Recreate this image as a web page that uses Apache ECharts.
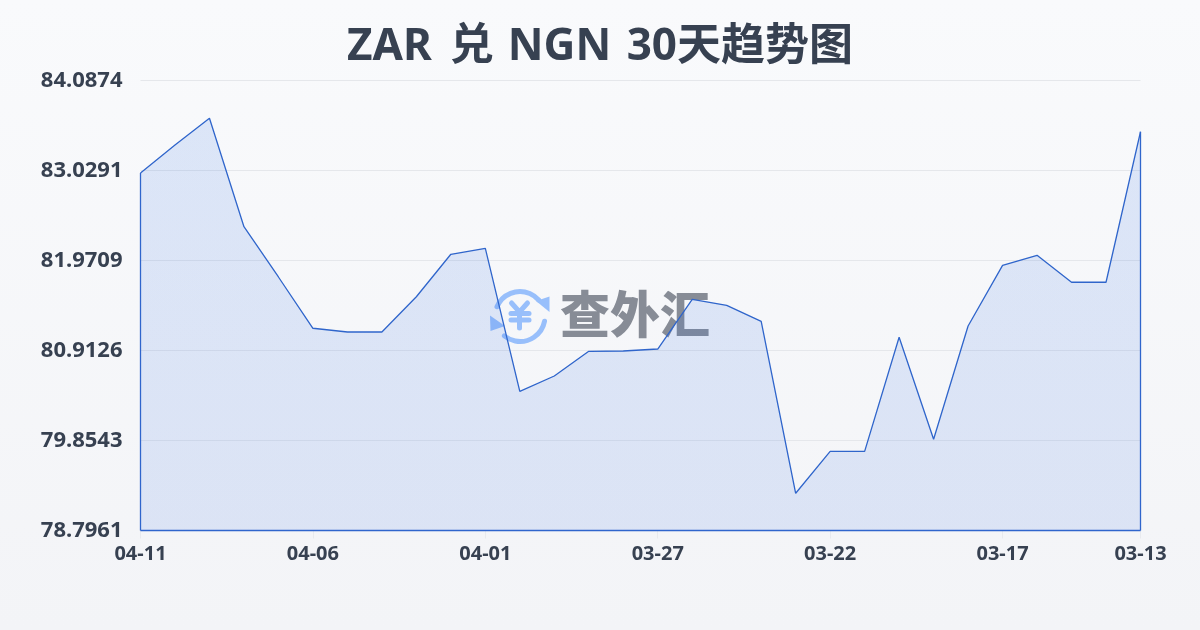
<!DOCTYPE html>
<html>
<head>
    <meta charset="utf-8">
    <title>ZAR 兑 NGN 30天趋势图</title>
    <script src="https://cdn.jsdelivr.net/npm/echarts@6/dist/echarts.min.js"></script>
    <style>
        html, body { margin: 0; padding: 0; }
    </style>
</head>
<body>
<div id="main" style="width: 1200px; height: 630px;"></div>
<script type="text/javascript">
    var dates = ['04-11', '04-10', '04-09', '04-08', '04-07', '04-06', '04-05', '04-04', '04-03', '04-02',
        '04-01', '03-31', '03-30', '03-29', '03-28', '03-27', '03-26', '03-25', '03-24', '03-23',
        '03-22', '03-21', '03-20', '03-19', '03-18', '03-17', '03-16', '03-15', '03-14', '03-13'];
    var rates = [83.000, 83.329, 83.643, 82.368, 81.777, 81.174, 81.130, 81.130, 81.545, 82.044,
        82.114, 80.433, 80.613, 80.903, 80.907, 80.930, 81.515, 81.444, 81.256, 79.234,
        79.727, 79.727, 81.068, 79.869, 81.201, 81.914, 82.032, 81.715, 81.715, 83.485];
    var yTicks = [78.7961, 79.8543, 80.9126, 81.9709, 83.0291, 84.0874];

    var fontName = '"Noto Sans", "Noto Sans CJK SC", sans-serif';
    var textColor = '#374151';
    var lineColor = '#2f65cb';
    var yMin = yTicks[0];
    var yMax = yTicks[yTicks.length - 1];
    var lastIdx = dates.length - 1;

    // 每5天一个标签，最后一天也要显示
    function showDate(idx) {
        return idx % 5 === 0 || idx === lastIdx;
    }

    var myChart = echarts.init(document.getElementById('main'));

    var logoColor = '#98bffb';
    var logoStroke = { stroke: logoColor, lineWidth: 5, lineCap: 'round', fill: 'none' };

    var option = {
        animation: false,
        backgroundColor: new echarts.graphic.LinearGradient(0, 0, 0, 1, [
            { offset: 0, color: '#f9fafc' },
            { offset: 1, color: '#f3f4f7' }
        ]),
        title: {
            // 标题里几处空格宽度不一样，用 rich 调
            text: 'ZAR{g1| }兑{g2| }NGN{g3| }30天趋势图',
            left: 'center',
            top: 20,
            textStyle: {
                color: textColor,
                fontFamily: fontName,
                fontWeight: 700,
                fontSize: 44,
                rich: {
                    g1: { width: 18, fontSize: 44 },
                    g2: { width: 14, fontSize: 44 },
                    g3: { width: 15.5, fontSize: 44 }
                }
            }
        },
        grid: { left: 140.5, right: 59.5, top: 80.5, bottom: 99.5 },
        xAxis: {
            type: 'category',
            boundaryGap: false,
            data: dates,
            axisLine: { show: false },
            axisTick: { show: true, alignWithLabel: true, length: 8, interval: showDate, lineStyle: { color: '#e8eaee' } },
            axisLabel: {
                interval: showDate,
                hideOverlap: false,
                color: textColor,
                fontFamily: fontName,
                fontWeight: 700,
                fontSize: 20,
                margin: 14
            }
        },
        yAxis: {
            type: 'value',
            min: yMin,
            max: yMax,
            axisLine: { show: false },
            axisTick: { show: false, customValues: yTicks },
            splitLine: { show: true, lineStyle: { color: '#e5e7eb', width: 1 } },
            axisLabel: {
                customValues: yTicks,
                formatter: function (v) { return v.toFixed(4); },
                color: textColor,
                fontFamily: fontName,
                fontWeight: 700,
                fontSize: 22,
                margin: 18,
                padding: [0, 0, 10, 0]
            }
        },
        series: [{
            type: 'line',
            data: rates,
            symbol: 'none',
            smooth: false,
            z: 5,
            lineStyle: { color: lineColor, width: 1.3 },
            areaStyle: {
                color: new echarts.graphic.LinearGradient(0, 0, 0, 1, [
                    { offset: 0, color: 'rgba(47,110,225,0.2)' },
                    { offset: 1, color: 'rgba(47,105,225,0.175)' }
                ])
            },
            // 面积图的左、右、下三条边
            markLine: {
                silent: true,
                symbol: 'none',
                label: { show: false },
                lineStyle: { color: lineColor, width: 1.3, type: 'solid' },
                data: [
                    [{ coord: [dates[0], yMin] }, { coord: [dates[0], rates[0]] }],
                    [{ coord: [dates[lastIdx], yMin] }, { coord: [dates[lastIdx], rates[lastIdx]] }],
                    [{ coord: [dates[0], yMin] }, { coord: [dates[lastIdx], yMin] }]
                ]
            }
        }],
        // 水印
        graphic: [
            { type: 'arc', z: 1, shape: { cx: 520, cy: 316.5, r: 25, startAngle: 203 * Math.PI / 180, endAngle: 320 * Math.PI / 180 }, style: logoStroke },
            { type: 'arc', z: 1, shape: { cx: 520, cy: 316.5, r: 25, startAngle: 11 * Math.PI / 180, endAngle: 129 * Math.PI / 180 }, style: logoStroke },
            { type: 'polygon', z: 1, shape: { points: [[536, 301], [549.5, 296.5], [549.5, 312]] }, style: { fill: logoColor } },
            { type: 'polygon', z: 1, shape: { points: [[490, 315.5], [490.5, 331], [505, 326]] }, style: { fill: logoColor } },
            { type: 'polyline', z: 1, shape: { points: [[511.5, 303], [519.5, 312], [527.5, 303]] }, style: logoStroke },
            { type: 'line', z: 1, shape: { x1: 511, y1: 313.5, x2: 529, y2: 313.5 }, style: logoStroke },
            { type: 'line', z: 1, shape: { x1: 511, y1: 320, x2: 529, y2: 320 }, style: logoStroke },
            { type: 'line', z: 1, shape: { x1: 519.5, y1: 312, x2: 519.5, y2: 328 }, style: logoStroke },
            {
                type: 'text', z: 1, left: 560, top: 289,
                style: {
                    text: '查外汇',
                    fill: '#878c96',
                    fontFamily: '"Noto Sans CJK SC", sans-serif',
                    fontWeight: 900,
                    fontSize: 50
                }
            }
        ]
    };

    myChart.setOption(option);
</script>
</body>
</html>
